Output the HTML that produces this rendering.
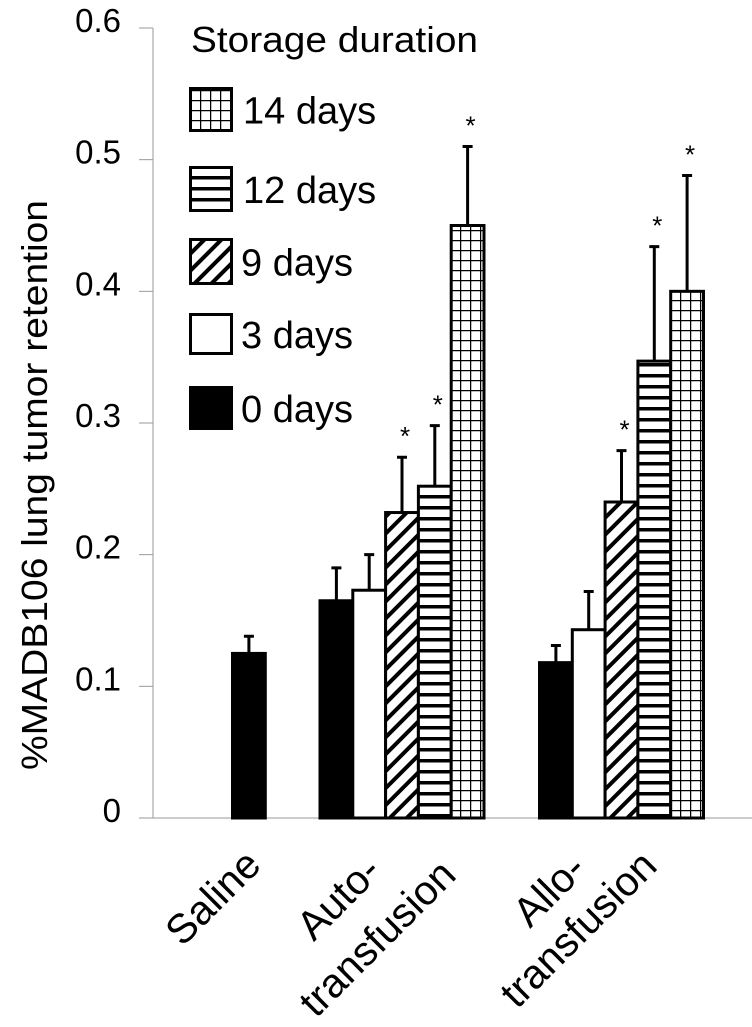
<!DOCTYPE html>
<html><head><meta charset="utf-8"><style>
body{margin:0;background:#fff;overflow:hidden}
svg{display:block;font-family:"Liberation Sans",Arial,sans-serif}
</style></head><body>
<svg width="752" height="1027" viewBox="0 0 752 1027" xmlns="http://www.w3.org/2000/svg">
<defs>
<pattern id="pGrid" width="10" height="10" patternUnits="userSpaceOnUse"><rect width="10" height="10" fill="#fff"/><path d="M0 0H10M0 0V10" stroke="#000" stroke-width="2.5"/></pattern>
<pattern id="pHor" width="10" height="11" patternUnits="userSpaceOnUse"><rect width="10" height="11" fill="#fff"/><rect y="0" width="10" height="3.5" fill="#000"/></pattern>
<pattern id="pDiag" width="12" height="12" patternUnits="userSpaceOnUse" patternTransform="rotate(45)"><rect width="12" height="12" fill="#fff"/><rect width="4" height="12" fill="#000"/></pattern>
</defs>
<g id="plot"></g>
</svg>
<script>
const groups=["Saline","Auto-transfusion","Allo-transfusion"];
const seriesNames=["0 days","3 days","9 days","12 days","14 days"];
const salineVals=[0.125];
const autoVals=[0.165,0.173,0.232,0.252,0.45];
const alloVals=[0.118,0.143,0.24,0.347,0.40];
const salineErr=[0.138];
const autoErr=[0.19,0.2,0.274,0.298,0.51];
const alloErr=[0.131,0.172,0.279,0.434,0.488];
const autoStar=[false,false,true,true,true];
const alloStar=[false,false,true,true,true];
const yTicks=[0,0.1,0.2,0.3,0.4,0.5,0.6];
const yTickLabels=["0","0.1","0.2","0.3","0.4","0.5","0.6"];

const NS="http://www.w3.org/2000/svg";
const g=document.getElementById('plot');
const y0=818, yTop=28, vMax=0.6;
const y=v=>y0-(v/vMax)*(y0-yTop);
const fills=["#000","#fff","url(#pDiag)","url(#pHor)","url(#pGrid)"];
const bw=32.8;
function mk(t,a){const e=document.createElementNS(NS,t);for(const k in a)e.setAttribute(k,a[k]);g.appendChild(e);return e;}

let ax=mk('line',{x1:153,y1:yTop,x2:153,y2:y0,stroke:'#999','stroke-width':1});


let xa=mk('line',{x1:139,y1:y0,x2:752,y2:y0,stroke:'#999','stroke-width':1});


yTicks.forEach((v,i)=>{
  let t=mk('line',{x1:139,y1:y(v),x2:153,y2:y(v),stroke:'#999','stroke-width':1});
  
  
  let l=mk('text',{x:121,y:y(v)+4,'font-size':33,'text-anchor':'end'});
  l.textContent=yTickLabels[i];
  
  
});
let yt=mk('text',{transform:'translate(47,485) rotate(-90)','font-size':36,'text-anchor':'middle',textLength:570,lengthAdjust:'spacingAndGlyphs'});
yt.textContent='%MADB106  lung tumor retention';



function drawGroup(x0,vals,errs,stars,seriesStart,name){
  vals.forEach((v,i)=>{
    const s=seriesStart+i;const x=x0+i*bw;
    const r=mk('rect',{x:x,y:y(v),width:bw,height:y0-y(v),fill:fills[s],stroke:'#000','stroke-width':3});
    
    
    const cx=x+bw/2;
    const e=mk('path',{d:`M${cx} ${y(v)}V${y(errs[i])}M${cx-5} ${y(errs[i])}H${cx+5}`,stroke:'#000','stroke-width':3,fill:'none'});
    
    
    if(stars&&stars[i]){
      const st=mk('text',{x:cx+3,y:y(errs[i])-12,'font-size':26,'text-anchor':'middle'});
      st.textContent='*';
      
      
    }
  });
}
drawGroup(232.5,salineVals,salineErr,null,0,'saline');
drawGroup(320,autoVals,autoErr,autoStar,0,'auto');
drawGroup(539.5,alloVals,alloErr,alloStar,0,'allo');

const xl=[["Saline",[263,867]],["Auto-",[383,873]],["transfusion",[458,877]],["Allo-",[588,871]],["transfusion",[659,868]]];
xl.forEach(([t,[x,yy]])=>{
  const e=mk('text',{x:x,y:yy,'font-size':41,'text-anchor':'end',transform:`rotate(-45 ${x} ${yy})`});
  e.textContent=t;
  
  
});

const lt=mk('text',{x:191,y:52,'font-size':36,textLength:287,lengthAdjust:'spacingAndGlyphs'});
lt.textContent='Storage duration';


const legTops=[386,313,238,166,87];
const legH=[44,42,47,46,45];
for(let s=4;s>=0;s--){
  const b=mk('rect',{x:190.5,y:legTops[s]+1.5,width:41,height:legH[s]-3,fill:fills[s],stroke:'#000','stroke-width':3});
  
  
  const t=mk('text',{x:s<=2?241:243,y:legTops[s]+legH[s]/2+14,'font-size':38});
  t.textContent=seriesNames[s];
  
  
}
</script>
</body></html>
